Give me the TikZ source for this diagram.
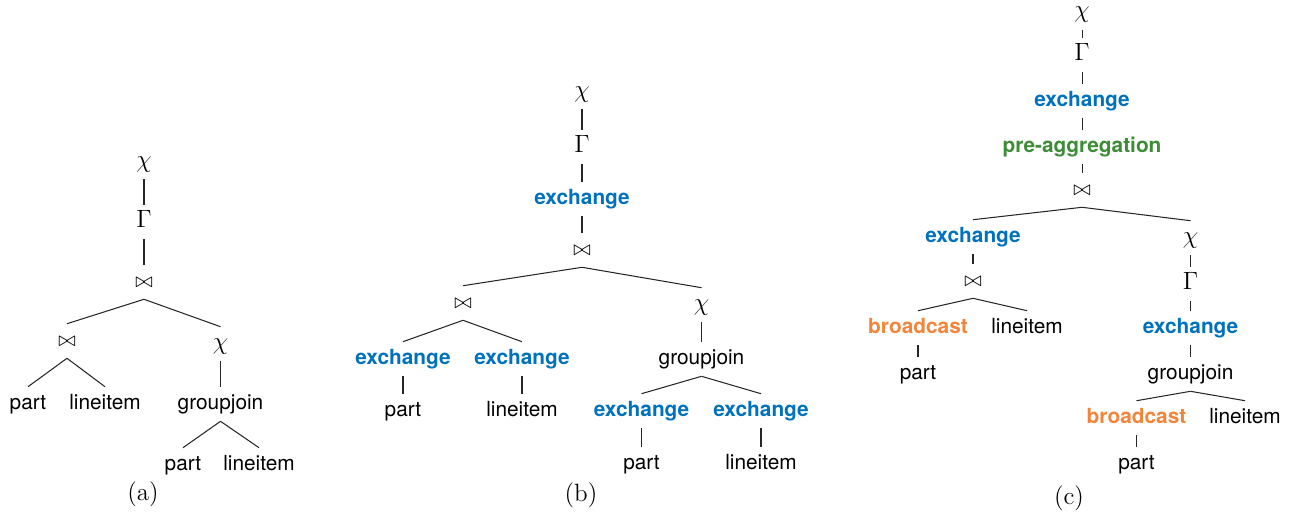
\documentclass[tikz,border=0pt]{standalone}
\usepackage{fontspec}
\newfontfamily\hv{TeX Gyre Heros}
\definecolor{exblue}{RGB}{0,114,189}
\definecolor{bcorange}{RGB}{242,133,58}
\definecolor{pagreen}{RGB}{61,140,54}
\tikzset{
  tn/.style={font=\hv, text height=7pt, text depth=2pt, inner xsep=0pt, inner ysep=3.6pt},
  mn/.style={tn, font=\large},
  jn/.style={tn, font=\normalsize},
  ex/.style={tn, font=\hv\bfseries, text=exblue},
  bc/.style={tn, font=\hv\bfseries, text=bcorange},
  pa/.style={tn, font=\hv\bfseries, text=pagreen},
  captext/.style={inner sep=0pt, font=\large},
  edge/.style={line width=0.5pt, black!85}
}
\begin{document}
\begin{tikzpicture}[x=0.48pt,y=-0.48pt]
\useasboundingbox (0,0) rectangle (1294,517);
% (a)
\node[mn] (a1) at (144,162) {$\chi$};
\node[mn] (a2) at (144,222) {$\Gamma$};
\node[jn] (a3) at (144,282) {$\bowtie$};
\node[jn] (a4) at (67,341) {$\bowtie$};
\node[mn] (a5) at (220.5,344) {$\chi$};
\node[tn] (a6) at (28,404) {part};
\node[tn] (a7) at (105,404) {lineitem};
\node[tn] (a8) at (220.5,404) {groupjoin};
\node[tn] (a9) at (183,465) {part};
\node[tn] (a10) at (259,465) {lineitem};
\node[captext] (capA) at (143,494) {(a)};
% (b)
\node[mn] (b1) at (582,92) {$\chi$};
\node[mn] (b2) at (582,147) {$\Gamma$};
\node[ex] (b3) at (582,199) {exchange};
\node[jn] (b4) at (582,250) {$\bowtie$};
\node[jn] (b5) at (463,303) {$\bowtie$};
\node[mn] (b6) at (701.5,305) {$\chi$};
\node[ex] (b7) at (403,359) {exchange};
\node[ex] (b8) at (522,359) {exchange};
\node[tn] (b9) at (701.5,359) {groupjoin};
\node[tn] (b10) at (403,411) {part};
\node[tn] (b11) at (522,411) {lineitem};
\node[ex] (b12) at (641.5,411) {exchange};
\node[ex] (b13) at (761,411) {exchange};
\node[tn] (b14) at (641.5,464) {part};
\node[tn] (b15) at (761,464) {lineitem};
\node[captext] (capB) at (581,495) {(b)};
% (c)
\node[mn, text height=3pt] (c1) at (1082,16.5) {$\chi$};
\node[mn] (c2) at (1082,55) {$\Gamma$};
\node[ex] (c3) at (1082,101) {exchange};
\node[pa] (c4) at (1082,147) {pre-aggregation};
\node[jn] (c5) at (1082,190) {$\bowtie$};
\node[ex] (c6) at (973,237) {exchange};
\node[mn] (c7) at (1190.5,238) {$\chi$};
\node[jn] (c8) at (973,281) {$\bowtie$};
\node[mn] (c9) at (1190.5,284) {$\Gamma$};
\node[bc] (c10) at (918,328) {broadcast};
\node[tn] (c11) at (1027,328) {lineitem};
\node[ex] (c12) at (1190.5,328) {exchange};
\node[tn] (c13) at (918,374) {part};
\node[tn] (c14) at (1190.5,374) {groupjoin};
\node[bc] (c15) at (1136.5,418) {broadcast};
\node[tn] (c16) at (1245,418) {lineitem};
\node[tn] (c17) at (1136.5,464) {part};
\node[captext] (capC) at (1069,498) {(c)};
% edges
\foreach \p/\c in {a1/a2,a2/a3,a3/a4,a3/a5,a4/a6,a4/a7,a5/a8,a8/a9,a8/a10,
  b1/b2,b2/b3,b3/b4,b4/b5,b4/b6,b5/b7,b5/b8,b6/b9,b7/b10,b8/b11,b9/b12,b9/b13,b12/b14,b13/b15,
  c1/c2,c2/c3,c3/c4,c4/c5,c5/c6,c5/c7,c6/c8,c7/c9,c8/c10,c8/c11,c9/c12,c10/c13,c12/c14,c14/c15,c14/c16,c15/c17}
  \draw[edge] (\p.south) -- (\c.north);
\end{tikzpicture}
\end{document}
